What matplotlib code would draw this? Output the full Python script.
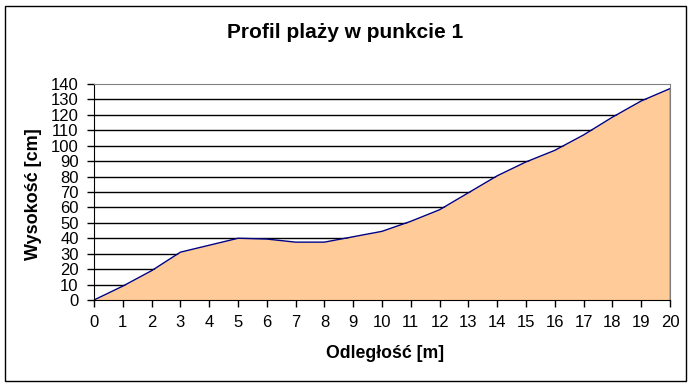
import matplotlib
matplotlib.use("Agg")
import matplotlib.pyplot as plt
import matplotlib.patches as patches

plt.rcParams['font.family'] = ['Liberation Sans', 'DejaVu Sans']

# odleglosc [m] i wysokosc [cm]
distance = list(range(0, 21))
height = [0, 9, 19, 31, 35.5, 40, 39.5, 37.5, 37.5, 41, 44.5,
          51, 58.5, 69.5, 80.5, 89.5, 97, 107, 118.5, 129, 137]
y_ticks = list(range(0, 141, 10))

W, H = 692, 387
fig = plt.figure(figsize=(W / 100, H / 100), dpi=100)

# ramka wokol wykresu
fig.patches.append(patches.Rectangle((5 / W, 6 / H), 681 / W, 375 / H,
                                     transform=fig.transFigure, fill=False,
                                     edgecolor='black', linewidth=1))

ax = fig.add_axes([94 / W, 87 / H, 576 / W, 216 / H])
ax.set_xlim(0, 20)
ax.set_ylim(0, 140)

ax.fill_between(distance, height, 0, color='#FFCC99', linewidth=0, zorder=2)
ax.plot(distance, height, color='#000080', linewidth=1, zorder=3)
ax.vlines(distance[-1], 0, height[-1], color='#000080', linewidth=1, zorder=3)

for v in y_ticks[1:-1]:
    ax.axhline(v, color='black', linewidth=1, zorder=1)

ax.set_xticks(distance)
ax.set_yticks(y_ticks)
ax.tick_params(direction='out', length=5, width=1, labelsize=12, pad=6)
for side in ['left', 'bottom']:
    ax.spines[side].set_color('black')
for side in ['top', 'right']:
    ax.spines[side].set_color('#808080')
for s in ax.spines.values():
    s.set_zorder(4)

fig.text(345 / W, 1 - 33 / H, 'Profil plaży w punkcie 1', ha='center', va='center',
         fontsize=15, fontweight='bold')
fig.text(385 / W, 1 - 353 / H, 'Odległość [m]', ha='center', va='center',
         fontsize=12.7, fontweight='bold')
fig.text(33 / W, 1 - 194 / H, 'Wysokość [cm]', ha='center', va='center',
         rotation=90, fontsize=13, fontweight='bold')

fig.savefig('out.png', dpi=100)
